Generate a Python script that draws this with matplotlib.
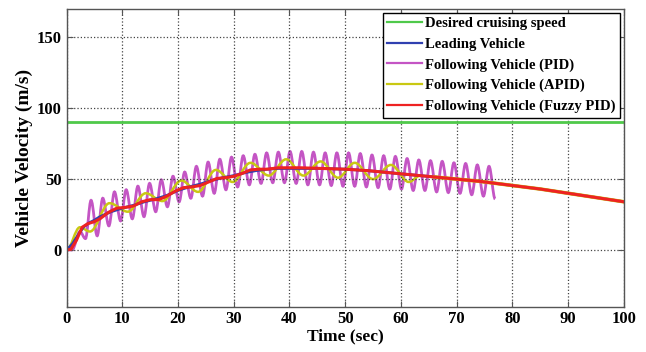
import matplotlib
matplotlib.use('Agg')
import matplotlib.pyplot as plt
from matplotlib.path import Path
from matplotlib.patches import PathPatch
from matplotlib.lines import Line2D
import numpy as np

## data
desired_speed = 90

lead_t = [0, 1, 2, 3, 4, 5, 6, 8, 10, 12, 14, 16, 18, 20, 22, 24, 26, 28, 30, 32, 34, 36, 38, 42,
          46, 50, 54, 58, 62, 66, 70, 74, 78, 80, 85, 90, 95, 100]
lead_v = [0, 4, 10, 16, 19, 21, 23.5, 27, 29.5, 31.5, 34, 36, 38.5, 42, 44.5, 46.5, 49, 51, 52.5, 54.5, 56, 57, 57.5, 57.5,
          57.5, 57, 56, 54.5, 53, 51.5, 50, 48.5, 46.5, 45.5, 43, 40, 37, 34]

fuzzy_t = [0, 0.8, 1.8, 2.8, 3.8, 5.0, 6.0, 7.5, 9.0, 10.5, 12.0, 13.5, 15.0, 16.5, 18.0, 19.5, 21.0, 22.5, 24.0, 25.5,
           27.0, 28.5, 30.0, 31.5, 33.0, 34.5, 36, 38, 42, 46, 50, 54, 58, 62, 66, 70, 74, 78, 80, 85, 90, 95, 100]
fuzzy_v = [0, 0.5, 7, 16, 18.5, 20, 22, 26.5, 29.5, 30, 31, 34, 35.5, 35.5, 38, 41.5, 44, 44.5, 45.5, 48,
           50.5, 51, 52, 54, 56.5, 57, 57, 58, 58, 57.5, 57, 56, 54.5, 53, 51.5, 50, 48.5, 46.5, 45.5, 43, 40, 37, 34]

# PID: peaks and troughs of the oscillation
pid_t = [0, 1.0, 2.4, 3.4, 4.4, 5.5, 6.5, 7.6, 8.6, 9.7, 10.7, 11.8, 12.8, 13.9, 14.9, 16.0, 17.0, 18.1, 19.1, 20.2,
         21.2, 22.3, 23.3, 24.4, 25.4, 26.5, 27.5, 28.6, 29.6, 30.7, 31.7, 32.8, 33.8, 34.9, 35.9, 37.0, 38.0, 39.1,
         40.1, 41.2, 42.2, 43.3, 44.3, 45.4, 46.4, 47.5, 48.5, 49.6, 50.6, 51.7, 52.7, 53.8, 54.8, 55.9, 56.9, 58.0,
         59.0, 60.1, 61.1, 62.2, 63.2, 64.3, 65.3, 66.4, 67.4, 68.5, 69.5, 70.6, 71.6, 72.7, 73.7, 74.8, 75.8, 76.9]
pid_v = [0, 0, 13, 8, 35, 10, 36.5, 17, 41, 20.5, 42.5, 22, 45, 23.5, 47, 27, 49.5, 30.5, 52, 34,
         55, 36.5, 59, 38, 62, 40, 64, 42.5, 65.5, 44.5, 66.5, 46, 67.5, 47, 68.5, 47.5, 69, 47.5,
         69.5, 47, 69.5, 46, 69, 46, 68.5, 45.5, 68.5, 45, 68.5, 45, 68, 44.5, 67, 44, 66.5, 43,
         66, 43, 64.5, 42, 63.5, 42, 63, 41, 62.5, 40.5, 61.5, 40, 61, 39, 60, 38, 59, 36]

# APID: peaks and troughs, then it settles onto the fuzzy curve
apid_t = [0, 2.4, 4.2, 7.7, 11.0, 14.2, 17.2, 20.6, 23.6, 26.8, 29.8, 33.0, 36.3, 39.4, 42.5, 45.6, 48.7,
          51.7, 55.0, 58.2, 61.4, 63.5]
apid_v = [0, 16, 13, 33, 27, 40, 34.5, 49, 41, 56.5, 48, 61.5, 52.5, 64, 52.5, 62.5, 51,
          61.5, 50, 60, 48, 52.5]

labels = ['Desired cruising speed', 'Leading Vehicle', 'Following Vehicle (PID)',
          'Following Vehicle (APID)', 'Following Vehicle (Fuzzy PID)']
colors = ['#4fc94a', '#3040b0', '#c455c4', '#c9c812', '#ee2222']


def wave(t, v):
    # smooth curve through extremes (flat tangent at every point)
    verts = [(t[0], v[0])]
    codes = [Path.MOVETO]
    for i in range(1, len(t)):
        dt = t[i] - t[i-1]
        verts += [(t[i-1] + 0.36*dt, v[i-1]), (t[i] - 0.36*dt, v[i]), (t[i], v[i])]
        codes += [Path.CURVE4]*3
    return Path(verts, codes)


plt.rcParams['font.family'] = 'Liberation Serif'
plt.rcParams['font.weight'] = 'bold'

fig = plt.figure(figsize=(6.46, 3.52), dpi=100)
ax = fig.add_axes([0.103, 0.129, 0.8628, 0.845])

ax.axhline(desired_speed, color=colors[0], lw=2.0)
ax.plot(lead_t, lead_v, color=colors[1], lw=2.0)
ax.add_patch(PathPatch(wave(pid_t, pid_v), fill=False, edgecolor=colors[2], lw=2.0))
ax.add_patch(PathPatch(wave(apid_t, apid_v), fill=False, edgecolor=colors[3], lw=1.8))
tail = np.array(fuzzy_t) >= 63.5
ax.plot(np.array(fuzzy_t)[tail], np.array(fuzzy_v)[tail], color=colors[3], lw=2.6)
ax.plot(fuzzy_t, fuzzy_v, color=colors[4], lw=2.2)

ax.set_xlim(0, 100)
ax.set_ylim(-40, 170)
ax.set_xticks(np.arange(0, 101, 10))
ax.set_yticks([0, 50, 100, 150])
ax.grid(True, linestyle=':', color='#444444', lw=0.9)
ax.tick_params(direction='in', top=True, right=True, labelsize=12, length=4, color='#555555')
for s in ax.spines.values():
    s.set_color('#555555')
    s.set_linewidth(1.0)

ax.set_xlabel('Time (sec)', fontsize=12.5, fontweight='bold', labelpad=1)
ax.set_ylabel('Vehicle Velocity (m/s)', fontsize=14, fontweight='bold', labelpad=3)

handles = [Line2D([], [], color=c, lw=1.6) for c in colors]
leg = ax.legend(handles, labels, loc='upper right', fontsize=10.5, fancybox=False, framealpha=1,
                edgecolor='black', handlelength=2.4, handletextpad=0.2, borderaxespad=0.25,
                labelspacing=0.5, borderpad=0.3)
leg.get_frame().set_linewidth(1.0)

plt.savefig('out.png', dpi=100)
